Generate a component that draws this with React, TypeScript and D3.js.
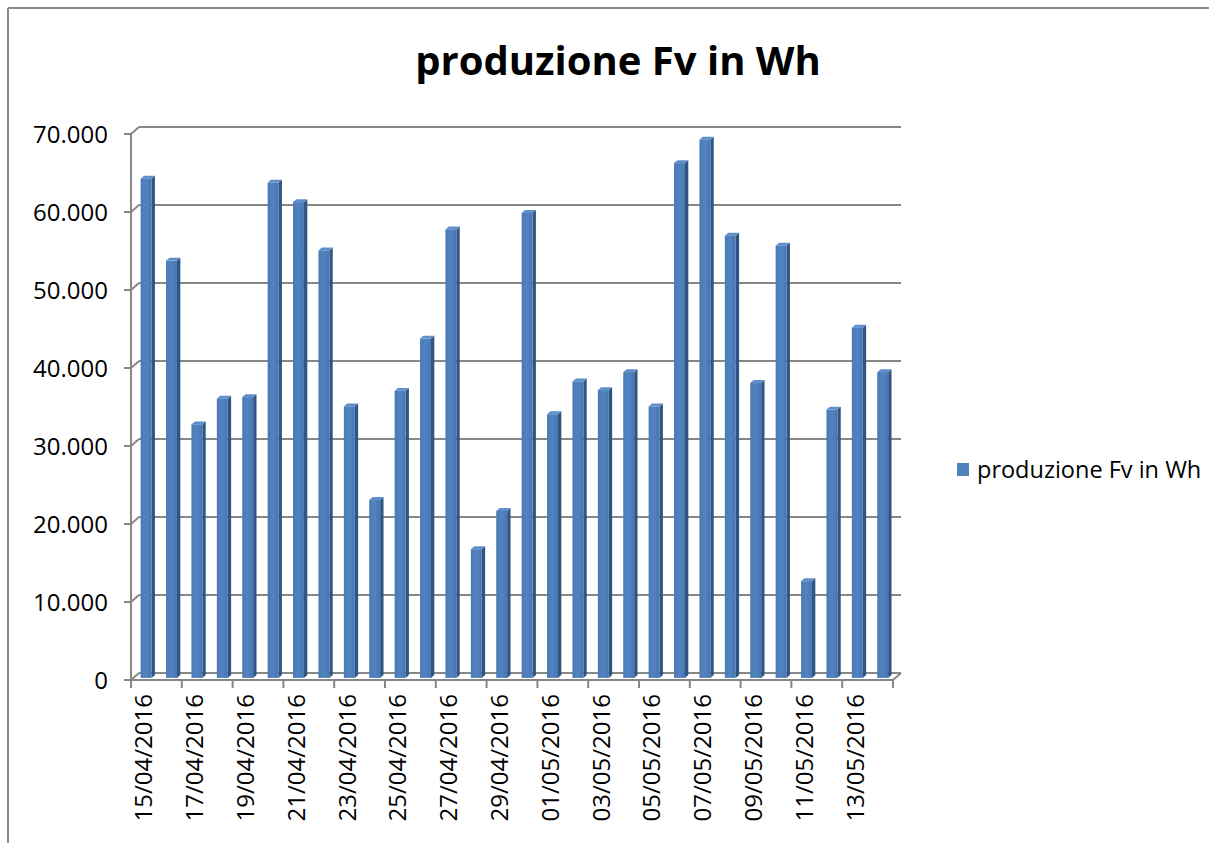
import React from "react";
import * as d3 from "d3";

// data
const days = [
  "15/04/2016", "16/04/2016", "17/04/2016", "18/04/2016", "19/04/2016", "20/04/2016",
  "21/04/2016", "22/04/2016", "23/04/2016", "24/04/2016", "25/04/2016", "26/04/2016",
  "27/04/2016", "28/04/2016", "29/04/2016", "30/04/2016", "01/05/2016", "02/05/2016",
  "03/05/2016", "04/05/2016", "05/05/2016", "06/05/2016", "07/05/2016", "08/05/2016",
  "09/05/2016", "10/05/2016", "11/05/2016", "12/05/2016", "13/05/2016", "14/05/2016",
];
const produzione = [
  64000, 53500, 32500, 35800, 36000, 63500, 61000, 54800, 34800, 22800,
  36800, 43500, 57500, 16500, 21400, 59600, 33800, 38000, 36900, 39200,
  34800, 66000, 69000, 56700, 37800, 55400, 12400, 34400, 44900, 39200,
];
const yTicks = [0, 10000, 20000, 30000, 40000, 50000, 60000, 70000];
const seriesName = "produzione Fv in Wh";
const title = "produzione Fv in Wh";

const W = 1209;
const H = 843;
const font = "'Open Sans', sans-serif";
const grid = "#878787";

// 3d depth of the plot box
const depthX = 8;
const depthY = -7;

const x = d3.scaleBand<string>().domain(days).range([131, 893]).padding(0);
const y = d3.scaleLinear().domain([0, 70000]).range([680, 134]);

const fmt = (v: number) => (v === 0 ? "0" : d3.format(",")(v).replace(/,/g, "."));

function Bar({ day, value }: { day: string; value: number }) {
  const bw = x.bandwidth() * 0.43;
  const z0 = 0.3;
  const z1 = 0.72;
  const cx = (x(day) as number) + x.bandwidth() / 2;
  const fx0 = cx - bw / 2 + z0 * depthX;
  const fx1 = fx0 + bw;
  const ftop = y(value) + z0 * depthY;
  const fbot = y(0) + z0 * depthY;
  const ddx = (z1 - z0) * depthX;
  const ddy = (z1 - z0) * depthY;
  const side = `M${fx1},${ftop} L${fx1 + ddx},${ftop + ddy} L${fx1 + ddx},${fbot + ddy} L${fx1},${fbot} Z`;
  const top = `M${fx0},${ftop} L${fx0 + ddx},${ftop + ddy} L${fx1 + ddx},${ftop + ddy} L${fx1},${ftop} Z`;
  return (
    <g>
      <path d={side} fill="#2f5583" />
      <path d={top} fill="#5e8fcb" />
      <rect x={fx0} y={ftop} width={bw} height={fbot - ftop} fill="url(#barFront)" />
    </g>
  );
}

export default function App() {
  const x0 = x.range()[0];
  const x1 = x.range()[1];
  const bottom = y(0);
  const labelTicks = days.filter((_, i) => i % 2 === 0);
  const tickBounds = d3.range(0, days.length + 1, 2).map((i) => x0 + i * x.step());

  return (
    <svg
      width={W}
      height={H}
      style={{ position: "absolute", left: 0, top: 0, background: "#fff" }}
      fontFamily={font}
    >
      <defs>
        <linearGradient id="barFront" x1="0" x2="1" y1="0" y2="0">
          <stop offset="0" stopColor="#4a7ab6" />
          <stop offset="0.5" stopColor="#5283c0" />
          <stop offset="1" stopColor="#4776b1" />
        </linearGradient>
      </defs>

      {/* chart frame */}
      <line x1={8} y1={8} x2={W} y2={8} stroke="#8a8a8a" strokeWidth={2} />
      <line x1={8} y1={8} x2={8} y2={H} stroke="#8a8a8a" strokeWidth={2} />

      <text x={618} y={75} textAnchor="middle" fontSize={40} fontWeight={700} fill="#000">
        {title}
      </text>

      {/* back wall gridlines + side diagonals */}
      {yTicks.map((t) => (
        <g key={t}>
          <line
            x1={x0 + depthX}
            y1={y(t) + depthY}
            x2={x1 + depthX}
            y2={y(t) + depthY}
            stroke={grid}
            strokeWidth={2}
          />
          <line x1={x0} y1={y(t)} x2={x0 + depthX} y2={y(t) + depthY} stroke={grid} strokeWidth={2} />
          <line x1={x0 - 7} y1={y(t)} x2={x0} y2={y(t)} stroke={grid} strokeWidth={2} />
          <text
            x={108}
            y={y(t)}
            dy="0.36em"
            textAnchor="end"
            fontSize={24}
            fill="#000"
          >
            {fmt(t)}
          </text>
        </g>
      ))}

      {/* front axis + floor */}
      <line x1={x0} y1={y(70000)} x2={x0} y2={bottom} stroke={grid} strokeWidth={2} />
      <line x1={x0} y1={bottom} x2={x1} y2={bottom} stroke={grid} strokeWidth={2} />
      <line x1={x1} y1={bottom} x2={x1 + depthX} y2={bottom + depthY} stroke={grid} strokeWidth={2} />
      {tickBounds.map((tx, i) => (
        <line key={i} x1={tx} y1={bottom} x2={tx} y2={bottom + 8} stroke={grid} strokeWidth={2} />
      ))}

      {days.map((d, i) => (
        <Bar key={d} day={d} value={produzione[i]} />
      ))}

      {labelTicks.map((d) => (
        <text
          key={d}
          transform={`translate(${(x(d) as number) + x.bandwidth() / 2},${bottom + 14}) rotate(-90)`}
          dy="0.36em"
          textAnchor="end"
          fontSize={24}
          fill="#000"
        >
          {d}
        </text>
      ))}

      {/* legend */}
      <rect x={957} y={463} width={12} height={13} fill="#4f81bd" />
      <text x={977} y={470} dy="0.36em" fontSize={23.5} fill="#000">
        {seriesName}
      </text>
    </svg>
  );
}
